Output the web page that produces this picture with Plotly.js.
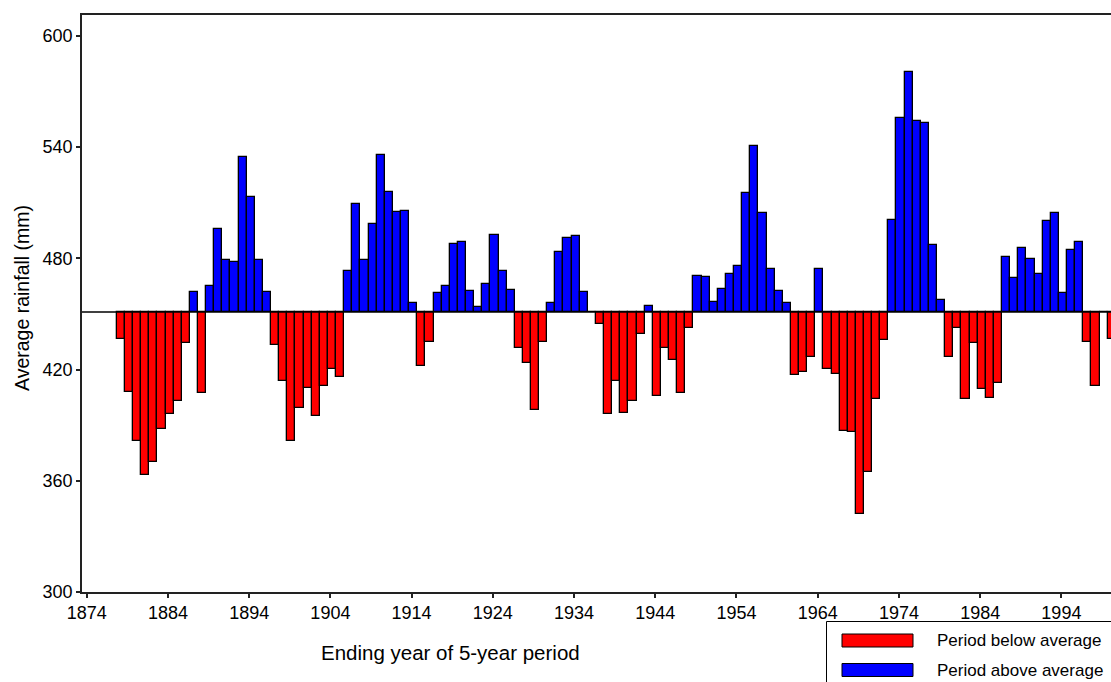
<!DOCTYPE html>
<html>
<head>
<meta charset="utf-8">
<script src="https://cdn.plot.ly/plotly-3.0.1.min.js"></script>
<style>
  html, body { margin: 0; padding: 0; background: #fff; overflow: hidden; }
  #chart { width: 1111px; height: 682px; }
</style>
</head>
<body>
<div id="chart"></div>
<script>
// Ending year of each 5-year period
const years = [];
for (let y = 1878; y <= 2000; y++) years.push(y);

// Average rainfall (mm) of the 5-year period ending in that year
const rainfall = [
  436.7, 408.0, 381.2, 363.3, 369.9, 387.8, 395.8, 402.8, 434.1, 461.7, // 1878-1887
  407.4, 465.1, 496.0, 479.0, 478.2, 534.9, 513.0, 479.0, 461.7, 433.1, // 1888-1897
  413.8, 381.2, 399.2, 409.8, 394.8, 411.2, 420.4, 416.2, 473.3, 509.2, // 1898-1907
  479.0, 498.6, 535.9, 515.6, 505.0, 505.8, 456.1, 421.8, 434.7, 461.1, // 1908-1917
  465.1, 488.0, 488.8, 462.5, 453.7, 466.1, 492.8, 473.3, 462.7, 431.7, // 1918-1927
  423.4, 398.2, 434.7, 456.1, 483.2, 491.0, 492.0, 461.7, 451.0, 444.7, // 1928-1937
  395.8, 413.8, 396.8, 403.2, 439.1, 454.5, 405.6, 431.7, 425.3, 407.2, // 1938-1947
  442.3, 470.7, 470.1, 456.7, 463.3, 471.5, 475.8, 515.0, 540.7, 504.4, // 1948-1957
  474.0, 462.5, 456.1, 417.2, 418.8, 426.7, 474.0, 420.4, 417.8, 386.8, // 1958-1967
  386.2, 342.3, 364.9, 404.2, 435.9, 500.8, 555.5, 580.6, 553.9, 552.9, // 1968-1977
  487.2, 457.7, 426.9, 442.5, 404.0, 434.1, 409.6, 404.6, 413.0, 480.6, // 1978-1987
  469.3, 485.4, 479.6, 471.5, 500.2, 504.4, 461.1, 484.6, 488.8, 434.7, // 1988-1997
  411.2, 451.0, 436.7                                                    // 1998-2000
];

const longTermAverage = 451;

const seriesNames = ["Period below average", "Period above average"];
const seriesColors = ["#ff0000", "#0000ff"];

const yTickValues = [300, 360, 420, 480, 540, 600];
const xTickValues = [1874, 1884, 1894, 1904, 1914, 1924, 1934, 1944, 1954, 1964, 1974, 1984, 1994];

const xTitle = "Ending year of 5-year period";
const yTitle = "Average rainfall (mm)";

function makeTrace(filterFn, idx) {
  const xs = [], ys = [], raw = [];
  years.forEach((yr, i) => {
    if (filterFn(rainfall[i])) {
      xs.push(yr);
      ys.push(rainfall[i] - longTermAverage);
      raw.push(rainfall[i]);
    }
  });
  return {
    type: "bar",
    name: seriesNames[idx],
    x: xs,
    y: ys,
    base: longTermAverage,
    customdata: raw,
    hovertemplate: "%{x}: %{customdata} mm<extra></extra>",
    width: 1,
    offset: -0.3,
    marker: { color: seriesColors[idx], line: { color: "#000", width: 1.3 } },
    showlegend: false
  };
}

const traces = [
  makeTrace(v => v < longTermAverage, 0),
  makeTrace(v => v >= longTermAverage, 1)
];

// pixel helpers for the hand-drawn legend (plot area: x 82..1111, y 15..592)
const L = 82, R = 1111, T = 15, B = 592;
const px = X => (X - L) / (R - L);
const py = Y => (B - Y) / (B - T);

const shapes = [
  { type: "line", xref: "paper", yref: "y", x0: 0, x1: 1, y0: longTermAverage, y1: longTermAverage,
    line: { color: "#000", width: 1.5 }, layer: "above" },
  // legend box
  { type: "rect", xref: "paper", yref: "paper", x0: px(826.5), x1: px(1116), y0: py(621.5), y1: py(700),
    line: { color: "#000", width: 1 }, fillcolor: "#fff" },
  { type: "rect", xref: "paper", yref: "paper", x0: px(842), x1: px(913), y0: py(634), y1: py(647),
    line: { color: "#000", width: 1 }, fillcolor: seriesColors[0] },
  { type: "rect", xref: "paper", yref: "paper", x0: px(842), x1: px(913), y0: py(663.5), y1: py(676.5),
    line: { color: "#000", width: 1 }, fillcolor: seriesColors[1] }
];

const fontFam = "Arial, 'Liberation Sans', sans-serif";

const annotations = [
  { xref: "paper", yref: "paper", x: px(935), y: py(640.5), xanchor: "left", yanchor: "middle",
    text: seriesNames[0], showarrow: false, font: { family: fontFam, size: 17, color: "#000" } },
  { xref: "paper", yref: "paper", x: px(935), y: py(670), xanchor: "left", yanchor: "middle",
    text: seriesNames[1], showarrow: false, font: { family: fontFam, size: 17, color: "#000" } },
  { xref: "paper", yref: "paper", x: px(450.5), y: py(652), xanchor: "center", yanchor: "middle",
    text: xTitle, showarrow: false, font: { family: fontFam, size: 20.5, color: "#000" } },
  { xref: "paper", yref: "paper", x: px(22), y: py(298), xanchor: "center", yanchor: "middle",
    text: yTitle, textangle: -90, showarrow: false, font: { family: fontFam, size: 19.5, color: "#000" } }
];

const layout = {
  width: 1111,
  height: 682,
  margin: { l: L, r: 1111 - R, t: T, b: 682 - B, pad: 0 },
  paper_bgcolor: "#fff",
  plot_bgcolor: "#fff",
  barmode: "overlay",
  bargap: 0,
  showlegend: false,
  font: { family: fontFam, size: 18, color: "#000" },
  xaxis: {
    range: [1873.42, 2000.11],
    tickmode: "array",
    tickvals: xTickValues,
    ticktext: xTickValues.map(String),
    ticks: "outside",
    ticklen: 4,
    tickwidth: 1.5,
    tickcolor: "#222",
    showline: true,
    linecolor: "#222",
    linewidth: 1.5,
    mirror: true,
    showgrid: false,
    zeroline: false,
    tickfont: { family: fontFam, size: 18, color: "#000" },
    fixedrange: true
  },
  yaxis: {
    range: [300, 611.3],
    tickmode: "array",
    tickvals: yTickValues,
    ticktext: yTickValues.map(String),
    ticks: "outside",
    ticklen: 4,
    tickwidth: 1.5,
    tickcolor: "#222",
    showline: true,
    linecolor: "#222",
    linewidth: 1.5,
    mirror: false,
    showgrid: false,
    zeroline: false,
    tickfont: { family: fontFam, size: 18, color: "#000" },
    fixedrange: true
  },
  shapes: shapes,
  annotations: annotations
};

Plotly.newPlot("chart", traces, layout, { displayModeBar: false, staticPlot: false });
</script>
</body>
</html>
